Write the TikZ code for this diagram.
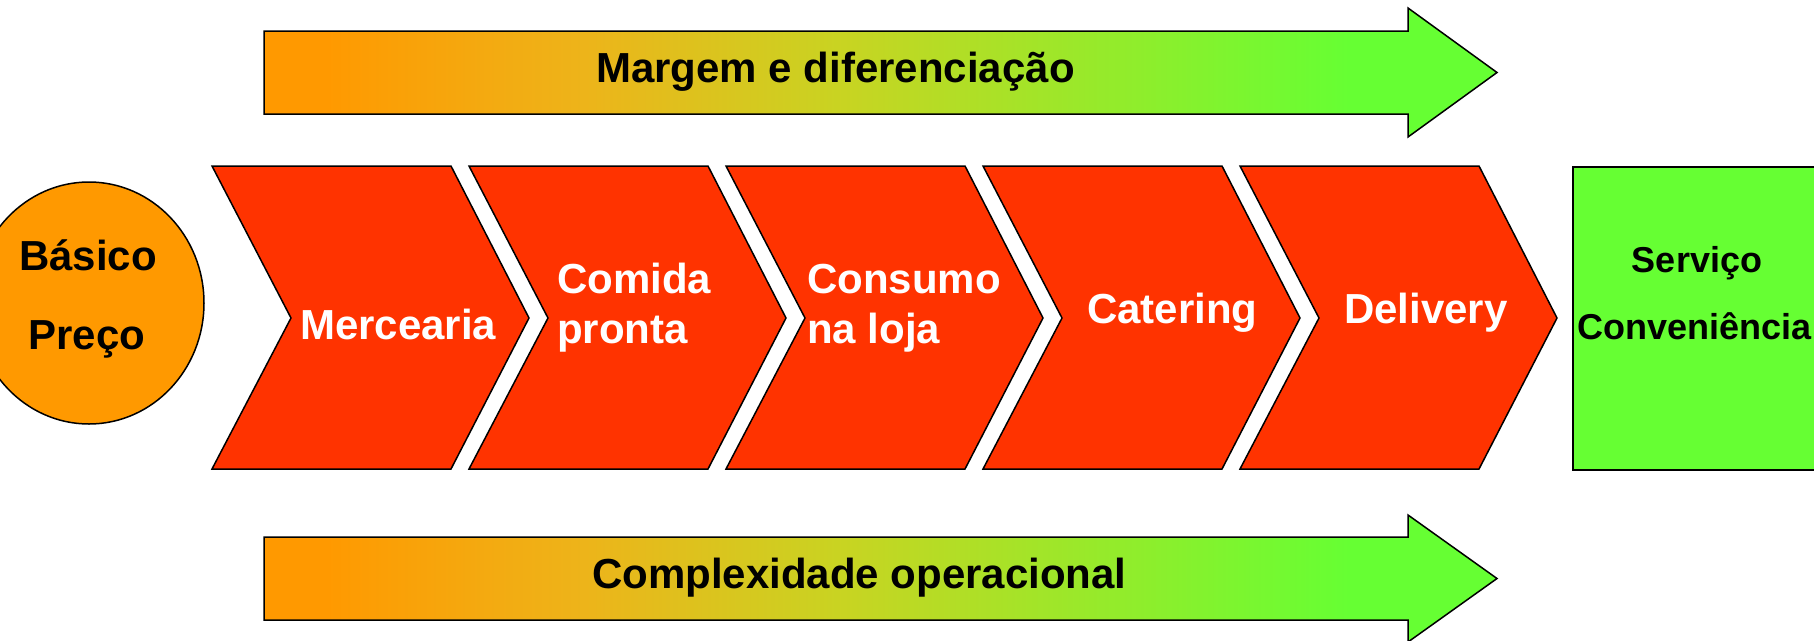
\documentclass[tikz,border=0pt]{standalone}
\usepackage{fontspec}
\setmainfont{Liberation Sans}
\usetikzlibrary{shapes.geometric}
\definecolor{orng}{HTML}{FF9900}
\definecolor{grn}{HTML}{66FF33}
\definecolor{midc}{HTML}{C8D422}
\definecolor{qc}{HTML}{EDB41A}
\definecolor{chev}{HTML}{FF3300}
\pgfdeclarehorizontalshading{og}{100bp}{color(0bp)=(orng); color(27.5bp)=(orng); color(38bp)=(qc); color(48.5bp)=(midc); color(69bp)=(grn); color(100bp)=(grn)}
\begin{document}
\begin{tikzpicture}[x=1pt,y=-1pt,
  chevron/.style={fill=chev, draw=black, line width=1.5pt, line join=miter},
  lbl/.style={inner sep=0pt, anchor=base west, font=\fontsize{42}{50}\selectfont\bfseries},
  wlbl/.style={lbl, text=white},
  slbl/.style={inner sep=0pt, font=\fontsize{36}{44}\selectfont\bfseries},
  bigarrow/.style={shading=og, draw=black, line width=1.5pt, line join=miter}]
\useasboundingbox (0,0) rectangle (1814,640);
\clip (0,0) rectangle (1814,640);
% top arrow
\path[bigarrow] (264,31) -- (1408,31) -- (1408,8) -- (1497,72.5) -- (1408,137) -- (1408,114) -- (264,114) -- cycle;
\node[lbl] (margem) at (596,82) {Margem e diferenciação};
% bottom arrow
\path[bigarrow] (264,537) -- (1408,537) -- (1408,515) -- (1497,578.5) -- (1408,642) -- (1408,620) -- (264,620) -- cycle;
\node[lbl] (compl) at (592,588) {Complexidade operacional};
% circle
\node[ellipse, draw=black, fill=orng, line width=1.5pt, minimum width=230pt, minimum height=242pt, inner sep=0pt] (basico) at (89,303) {};
\node[lbl, anchor=base] (bas) at (88,270) {Básico};
\node[lbl, anchor=base] (preco) at (87,349) {Preço};
% chevrons
\foreach \i in {0,...,4}{
  \pgfmathsetmacro\xa{212+257*\i}
  \path[chevron] (\xa,166) -- ++(239,0) -- ++(78,152) -- ++(-78,151) -- ++(-239,0) -- ++(79,-151) -- cycle;
}
\node[wlbl] (merc) at (300,339) {Mercearia};
\node[wlbl] (comida) at (557,293) {Comida};
\node[wlbl] (pronta) at (557,343) {pronta};
\node[wlbl] (consumo) at (807,293) {Consumo};
\node[wlbl] (naloja) at (807,343) {na loja};
\node[wlbl] (cater) at (1087,323) {Catering};
\node[wlbl] (deliv) at (1344,323) {Delivery};
% green box
\node[rectangle, draw=black, fill=grn, line width=1.5pt, minimum width=300pt, minimum height=303pt, anchor=north west, inner sep=0pt] (serv) at (1572,166) {};
\node[slbl, anchor=base] (servico) at (1697,272) {Serviço};
\node[slbl, anchor=base west] (conv) at (1577,339) {Conveniência};
\end{tikzpicture}
\end{document}
